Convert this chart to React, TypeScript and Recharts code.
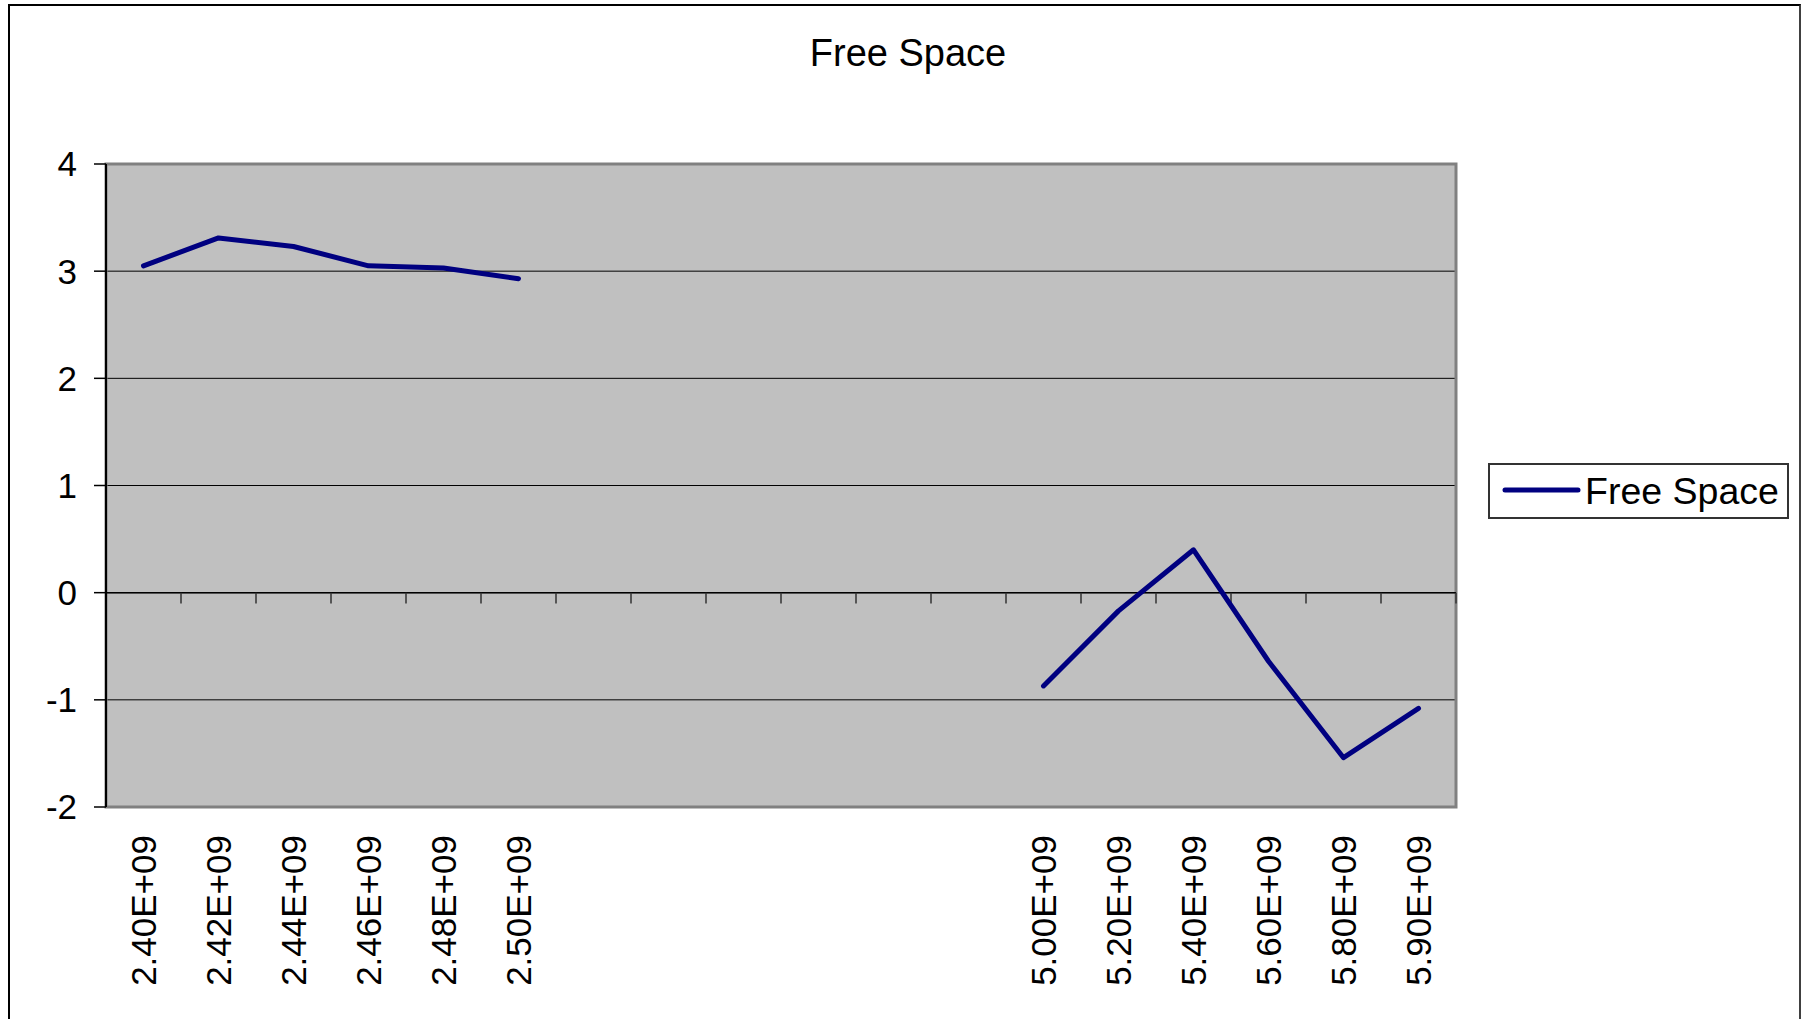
import React from 'react';
import { LineChart, Line, XAxis, YAxis, CartesianGrid, Legend, ReferenceLine, ReferenceArea } from 'recharts';

// frequency slots as shown on the category axis (blank slots are empty categories)
const freqLabels = [
  '2.40E+09', '2.42E+09', '2.44E+09', '2.46E+09', '2.48E+09', '2.50E+09',
  '', '', '', '', '', '',
  '5.00E+09', '5.20E+09', '5.40E+09', '5.60E+09', '5.80E+09', '5.90E+09',
];

const freeSpace: (number | null)[] = [
  3.05, 3.31, 3.23, 3.05, 3.03, 2.93,
  null, null, null, null, null, null,
  -0.87, -0.17, 0.40, -0.64, -1.54, -1.08,
];

const yTicks = [-2, -1, 0, 1, 2, 3, 4];

const FONT = '"Liberation Sans", Arial, sans-serif';

const data = freqLabels.map((label, i) => ({ slot: i, label, value: freeSpace[i] }));

const FreqTick = (props: any) => {
  const { x, y, payload } = props;
  const label = freqLabels[payload.value];
  if (!label) return null;
  return (
    <text
      x={x}
      y={y}
      transform={`rotate(-90, ${x}, ${y})`}
      textAnchor="end"
      dy="0.36em"
      fontSize={35}
      fontFamily={FONT}
      fill="#000"
    >
      {label}
    </text>
  );
};

const LegendBox = () => (
  <div
    style={{
      boxSizing: 'border-box',
      width: 301,
      height: 56,
      border: '2px solid #333',
      background: '#fff',
      display: 'flex',
      alignItems: 'center',
      paddingLeft: 12,
      fontFamily: FONT,
    }}
  >
    <svg width={83} height={20} style={{ marginTop: 6 }}>
      <line x1={3} y1={6} x2={76} y2={6} stroke="#000080" strokeWidth={5} strokeLinecap="round" />
    </svg>
    <span style={{ fontSize: 37.5, color: '#000' }}>Free Space</span>
  </div>
);

export default function App() {
  return (
    <div style={{ position: 'absolute', left: 0, top: 0, width: 1801, height: 1019, overflow: 'hidden', background: '#fff' }}>
      {/* chart area frame */}
      <div
        style={{
          position: 'absolute',
          left: 8,
          top: 4,
          width: 1793,
          height: 1100,
          boxSizing: 'border-box',
          borderLeft: '2px solid #000',
          borderTop: '2px solid #000',
          borderRight: '2px solid #404040',
        }}
      />
      <div
        style={{
          position: 'absolute',
          left: 0,
          top: 34,
          width: 1816,
          textAlign: 'center',
          fontFamily: FONT,
          fontSize: 38,
          lineHeight: '38px',
          color: '#000',
        }}
      >
        Free Space
      </div>
      <div style={{ position: 'absolute', left: 0, top: 0 }}>
        <LineChart width={1801} height={1019} data={data} margin={{ top: 164, right: 345, left: 0, bottom: 0 }}>
          <CartesianGrid vertical={false} fill="#C0C0C0" stroke="#000" strokeWidth={1} fillOpacity={1} />
          <ReferenceArea y1={-2} y2={4} fill="none" stroke="#808080" strokeWidth={3} />
          <XAxis
            dataKey="slot"
            type="category"
            scale="band"
            height={212}
            axisLine={false}
            tickLine={false}
            tickSize={0}
            tickMargin={28}
            interval={0}
            tick={<FreqTick />}
          />
          <YAxis
            type="number"
            domain={[-2, 4]}
            ticks={yTicks}
            width={106}
            interval={0}
            axisLine={{ stroke: '#000', strokeWidth: 2 }}
            tickLine={{ stroke: '#000', strokeWidth: 1.5 }}
            tickSize={12}
            tickMargin={17}
            tick={{ fontSize: 35, fontFamily: FONT, fill: '#000' }}
          />
          <ReferenceLine y={0} stroke="#000" strokeWidth={1.5} />
          {data.slice(1).map((d) => (
            <ReferenceLine
              key={`tick-${d.slot}`}
              segment={[{ x: d.slot, y: 0 }, { x: d.slot, y: -0.1 }]}
              position="start"
              stroke="#333"
              strokeWidth={1.5}
            />
          ))}
          <ReferenceLine
            segment={[{ x: data[data.length - 1].slot, y: 0 }, { x: data[data.length - 1].slot, y: -0.1 }]}
            position="end"
            stroke="#333"
            strokeWidth={1.5}
          />
          <Legend
            layout="vertical"
            align="center"
            verticalAlign="middle"
            content={<LegendBox />}
            wrapperStyle={{ left: 1488, top: 463, right: 'auto', bottom: 'auto', width: 301, height: 56 }}
          />
          <Line
            type="linear"
            dataKey="value"
            name="Free Space"
            stroke="#000080"
            strokeWidth={5}
            strokeLinecap="round"
            strokeLinejoin="round"
            dot={false}
            activeDot={false}
            connectNulls={false}
            isAnimationActive={false}
          />
        </LineChart>
      </div>
    </div>
  );
}
